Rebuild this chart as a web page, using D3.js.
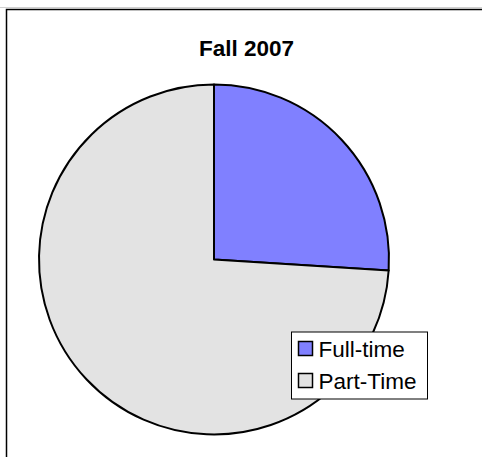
<!DOCTYPE html>
<html>
<head>
<script src="https://d3js.org/d3.v7.min.js" charset="utf-8"></script>
<style>
  body { margin: 0; background: #fff; }
  text { font-family: "Liberation Sans", Arial, sans-serif; }
</style>
</head>
<body>
<svg width="482" height="457"></svg>
<script>
  var categories = ["Full-time", "Part-Time"];
  var values = [26, 74];
  var colors = ["#8080FF", "#E3E3E3"];
  var title = "Fall 2007";

  var svg = d3.select("svg");

  // chart frame (runs off the right and bottom edge)
  svg.append("line").attr("x1", 0).attr("x2", 482).attr("y1", 7.5).attr("y2", 7.5)
     .attr("stroke", "#d0d0d0").attr("stroke-width", 1);
  svg.append("path")
     .attr("d", "M6.5,460 L6.5,9.5 L485,9.5")
     .attr("fill", "none").attr("stroke", "#000").attr("stroke-width", 1.5);

  svg.append("text")
     .attr("x", 246.5)
     .attr("y", 56)
     .attr("text-anchor", "middle")
     .attr("font-size", "22.5px")
     .attr("font-weight", "bold")
     .text(title);

  var cx = 214, cy = 259.5, radius = 175;

  var pie = d3.pie().sort(null).value(function(d) { return d; });
  var arc = d3.arc().innerRadius(0).outerRadius(radius);
  var color = d3.scaleOrdinal().domain(categories).range(colors);

  var g = svg.append("g").attr("transform", "translate(" + cx + "," + cy + ")");

  g.selectAll("path")
   .data(pie(values))
   .enter()
   .append("path")
   .attr("d", arc)
   .attr("fill", function(d, i) { return color(categories[i]); })
   .attr("stroke", "#000")
   .attr("stroke-width", 2)
   .attr("stroke-linejoin", "round");

  // legend
  var lg = svg.append("g").attr("transform", "translate(291.5,332)");
  lg.append("rect")
    .attr("width", 136).attr("height", 67)
    .attr("fill", "#fff").attr("stroke", "#000").attr("stroke-width", 1);

  var item = lg.selectAll(".item")
    .data(categories)
    .enter()
    .append("g")
    .attr("class", "item")
    .attr("transform", function(d, i) { return "translate(7," + (9.5 + i * 32) + ")"; });

  item.append("rect")
    .attr("x", 0).attr("y", 0)
    .attr("width", 14).attr("height", 14)
    .attr("fill", function(d) { return color(d); })
    .attr("stroke", "#000").attr("stroke-width", 1.5);

  item.append("text")
    .attr("x", 20)
    .attr("y", 15.5)
    .attr("font-size", "22.5px")
    .text(function(d) { return d; });
</script>
</body>
</html>
